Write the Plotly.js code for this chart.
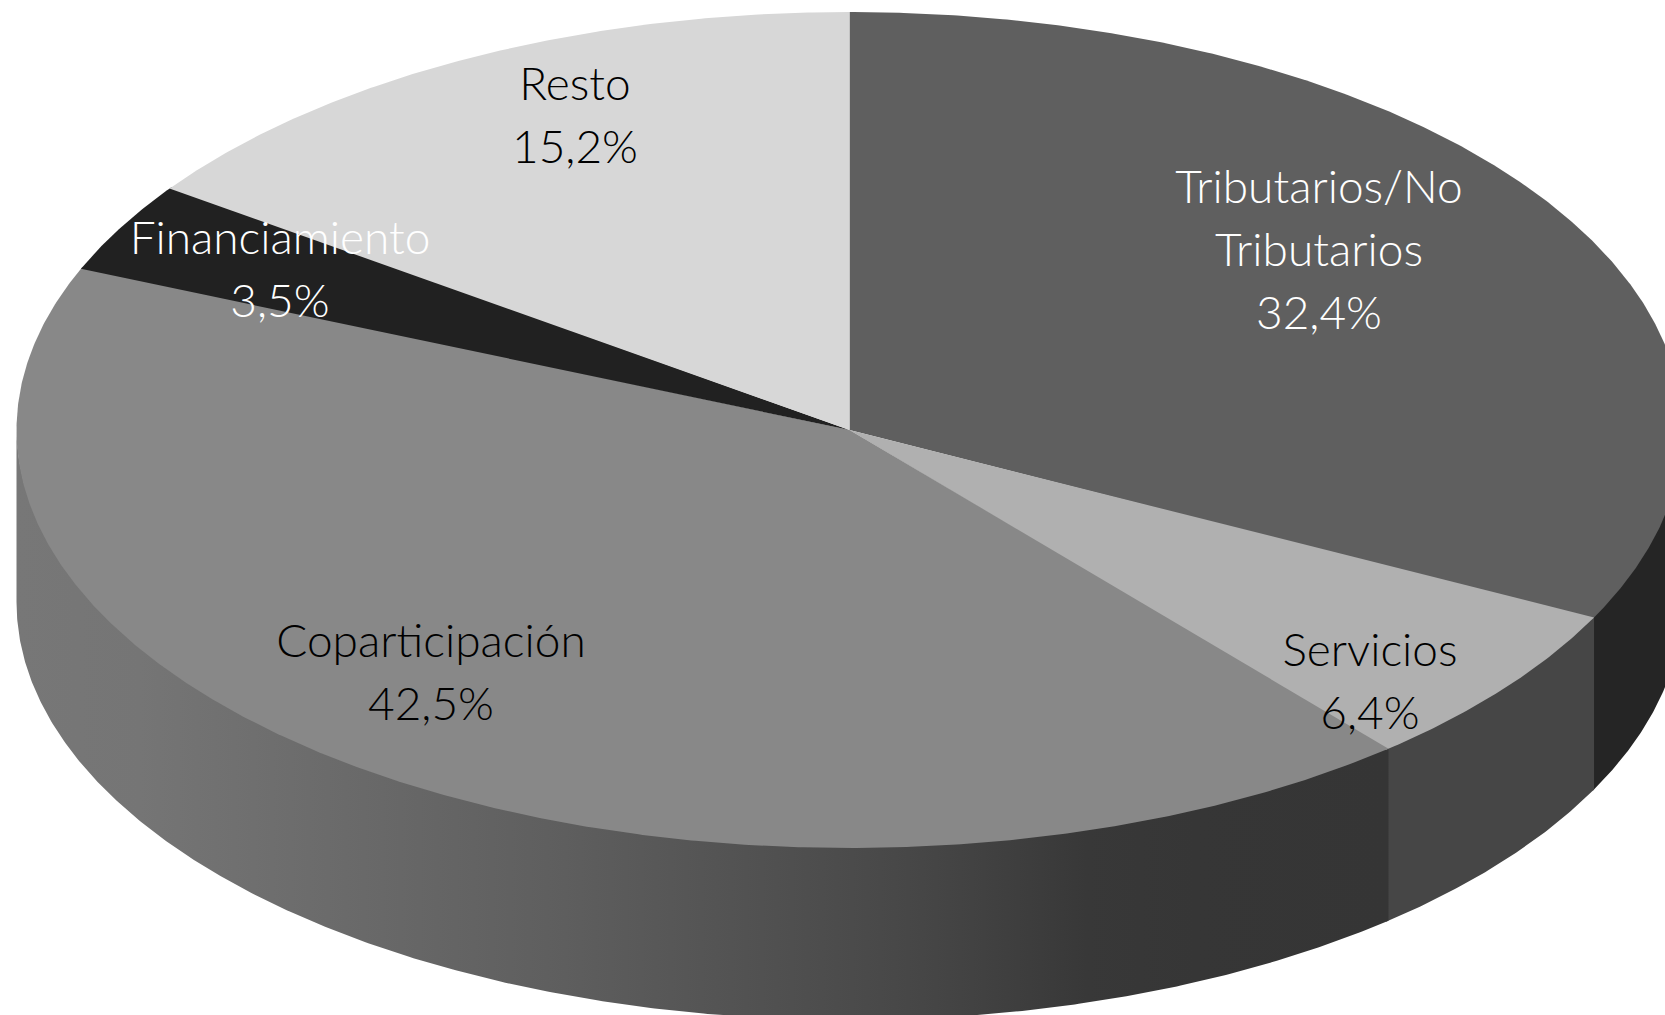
<!DOCTYPE html>
<html>
<head>
<meta charset="utf-8">
<script src="https://cdn.plot.ly/plotly-3.0.1.min.js"></script>
<style>html,body{margin:0;padding:0;background:#fff;overflow:hidden}#c{width:1665px;height:1015px}</style>
</head>
<body>
<div id="c"></div>
<script>
// Data, in chart order, clockwise from twelve o'clock
const categories = ["Tributarios/No|Tributarios", "Servicios", "Coparticipación", "Financiamiento", "Resto"];
const shares = [32.4, 6.4, 42.5, 3.5, 15.2];

// Styles
const topColors = ["#5f5f5f", "#b0b0b0", "#888888", "#212121", "#d7d7d7"];
const wallColors = ["#252525", "#464646", null, null, null];
const wallGradient = [[0, "#777777"], [0.09, "#757575"], [0.2, "#6d6d6d"], [0.4, "#5e5e5e"], [0.62, "#4a4a4a"], [0.68, "#444444"], [0.78, "#383838"], [0.86, "#363636"], [1, "#353535"]];
const textColors = ["#ffffff", "#000000", "#000000", "#ffffff", "#000000"];
const labelX = [1319, 1370, 431, 280, 575];
const labelY = [254, 686, 677, 274, 120];
const lineGap = 63;
const fontFamily = "Lato, sans-serif";
const fontSize = 46;

// Oblique projection of the disc
const cx = 849.5, cy = 430, rx = 833, ry = 418, depth = 172;
const total = shares.reduce((a, b) => a + b, 0);
const px = t => cx + rx * Math.sin(t);
const py = t => cy - ry * Math.cos(t);
const toRad = p => p / total * 2 * Math.PI;

function arc(a, b) {
  const n = Math.max(2, Math.ceil((b - a) / 0.005)), ts = [];
  for (let i = 0; i <= n; i++) ts.push(a + (b - a) * i / n);
  return ts;
}

const traces = [];
let acc = 0;
const spans = shares.map(s => { const r = [toRad(acc), toRad(acc + s)]; acc += s; return r; });
const overlap = 0.004;

// Side wall: only the front half of the rim (pi/2 .. 3pi/2) is visible.
// Each piece runs a hair under the next one so no white seam shows.
spans.forEach((sp, i) => {
  const a = Math.max(sp[0], Math.PI / 2), b = Math.min(sp[1] + overlap, 3 * Math.PI / 2);
  if (b <= a) return;
  const ts = arc(a, b);
  const rev = ts.slice().reverse();
  const x = ts.map(px).concat(rev.map(px));
  const y = ts.map(t => py(t) - 3).concat(rev.map(t => py(t) + depth));
  const tr = { type: "scatter", mode: "lines", x, y, fill: "toself", line: { width: 0 }, hoverinfo: "skip" };
  if (wallColors[i]) tr.fillcolor = wallColors[i];
  else tr.fillgradient = { type: "horizontal", colorscale: wallGradient, start: px(3 * Math.PI / 2), stop: px(a) };
  traces.push(tr);
});

// Top face
spans.forEach((sp, i) => {
  const ts = arc(sp[0], i < spans.length - 1 ? sp[1] + overlap : sp[1]);
  traces.push({
    type: "scatter", mode: "lines",
    x: [cx].concat(ts.map(px)), y: [cy].concat(ts.map(py)),
    fill: "toself", fillcolor: topColors[i], line: { width: 0 }, hoverinfo: "skip"
  });
});

// Labels, one text point per line so the line spacing can follow the reference
const lx = [], ly = [], lt = [], lc = [];
categories.forEach((c, i) => {
  const lines = c.split("|").concat(shares[i].toFixed(1).replace(".", ",") + "%");
  lines.forEach((s, k) => {
    lx.push(labelX[i]);
    ly.push(labelY[i] + (k - (lines.length - 1) / 2) * lineGap);
    lt.push(s);
    lc.push(textColors[i]);
  });
});
traces.push({
  type: "scatter", mode: "text", x: lx, y: ly, text: lt,
  textposition: "middle center",
  textfont: { family: fontFamily, size: fontSize, weight: 300, color: lc },
  hoverinfo: "skip", cliponaxis: false
});

Plotly.newPlot("c", traces, {
  width: 1665, height: 1015,
  margin: { l: 0, r: 0, t: 0, b: 0 },
  paper_bgcolor: "#ffffff", plot_bgcolor: "#ffffff",
  showlegend: false,
  xaxis: { range: [0, 1665], visible: false, fixedrange: true },
  yaxis: { range: [1015, 0], visible: false, fixedrange: true }
}, { displayModeBar: false, staticPlot: true });
</script>
</body>
</html>
